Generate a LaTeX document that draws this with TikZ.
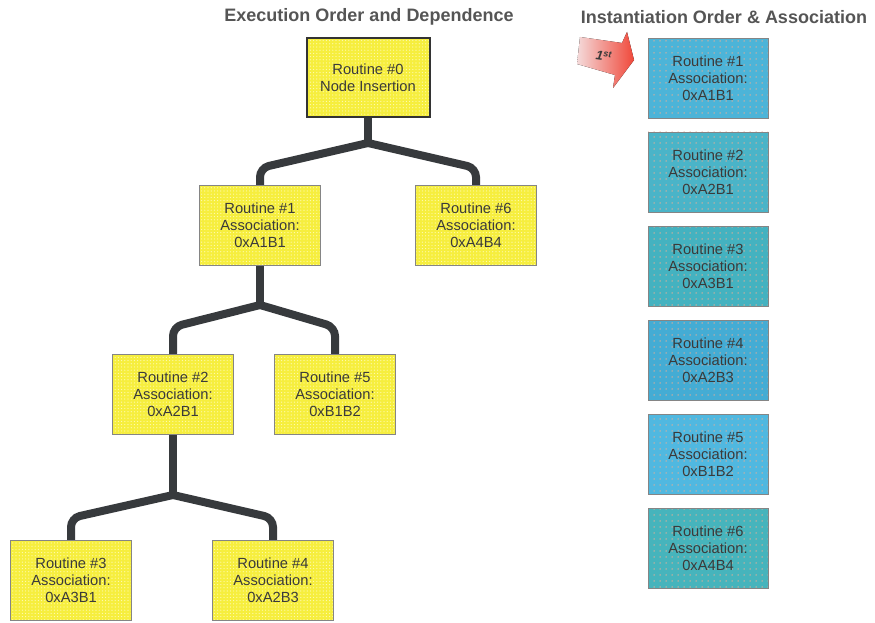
\documentclass[tikz,border=0pt]{standalone}
\usepackage{fontspec}
\setmainfont{Liberation Sans}
\usetikzlibrary{patterns.meta,backgrounds}

\definecolor{inktext}{HTML}{3A3A3A}
\definecolor{headtext}{HTML}{555555}
\definecolor{wire}{HTML}{373A3D}
\definecolor{boxedge}{HTML}{858585}
\definecolor{yel}{HTML}{F6EE3E}
\definecolor{yeldot}{HTML}{FFFBB8}
\definecolor{bluedot}{HTML}{E6AE96}
\definecolor{bA}{HTML}{4CB4D8}
\definecolor{bB}{HTML}{4AB4C8}
\definecolor{bC}{HTML}{44B2C0}
\definecolor{bD}{HTML}{44ACD4}
\definecolor{bE}{HTML}{50B8E0}
\definecolor{bF}{HTML}{46B4BC}
\definecolor{arrowlo}{HTML}{F4DADA}
\definecolor{arrowhi}{HTML}{F0483A}

\tikzset{
  boxtext/.style={font=\fontsize{14.7}{17.2}\selectfont, text=inktext, align=center},
  ybox/.style={boxtext, draw=boxedge, line width=0.8pt,
    preaction={fill=yel},
    preaction={pattern={Dots[distance=3.2pt,radius=0.6pt]}, pattern color=yeldot},
    minimum width=121pt, minimum height=80pt, inner sep=0pt},
  rootbox/.style={ybox, draw=black!80, line width=2pt, minimum width=123pt, minimum height=79pt},
  bbox/.style={boxtext, draw=boxedge, line width=0.8pt,
    preaction={fill=#1},
    preaction={pattern={Dots[distance=6pt,radius=0.75pt]}, pattern color=bluedot},
    minimum width=120pt, minimum height=80pt, inner sep=0pt},
  heading/.style={font=\bfseries\fontsize{18}{20}\selectfont, text=headtext},
  link/.style={draw=wire, line width=8pt, line cap=round, rounded corners=9pt},
}

\begin{document}
\begin{tikzpicture}[x=1pt,y=-1pt]
\useasboundingbox (0,0) rectangle (875,623);

% headings
\node[heading] (h1) at (369,17) {Execution Order and Dependence};
\node[heading] (h2) at (724,17) {Instantiation Order \& Association};

% dependence tree
\node[rootbox] (r0) at (368,77.5) {Routine \#0\\Node Insertion};
\node[ybox] (r1) at (260,225.5) {Routine \#1\\Association:\\0xA1B1};
\node[ybox] (r6) at (476,225.5) {Routine \#6\\Association:\\0xA4B4};
\node[ybox] (r2) at (173,394) {Routine \#2\\Association:\\0xA2B1};
\node[ybox] (r5) at (335,394) {Routine \#5\\Association:\\0xB1B2};
\node[ybox] (r3) at (71,580.5) {Routine \#3\\Association:\\0xA3B1};
\node[ybox] (r4) at (273,580.5) {Routine \#4\\Association:\\0xA2B3};

% branch points and elbows
\coordinate (j0) at (368,143);
\coordinate (j1) at (260,305);
\coordinate (j2) at (173,495);
\coordinate (e1) at (260,168);
\coordinate (e6) at (476,168);
\coordinate (e2) at (173,327);
\coordinate (e5) at (335,327);
\coordinate (e3) at (71,518);
\coordinate (e4) at (273,518);

\begin{scope}[on background layer]
  \draw[link] (r0.south) -- (j0);
  \draw[link] (j0) -- (e1) -- (r1.north);
  \draw[link] (j0) -- (e6) -- (r6.north);
  \draw[link] (r1.south) -- (j1);
  \draw[link] (j1) -- (e2) -- (r2.north);
  \draw[link] (j1) -- (e5) -- (r5.north);
  \draw[link] (r2.south) -- (j2);
  \draw[link] (j2) -- (e3) -- (r3.north);
  \draw[link] (j2) -- (e4) -- (r4.north);
\end{scope}

% instantiation column
\node[bbox=bA] (i1) at (708,78)  {Routine \#1\\Association:\\0xA1B1};
\node[bbox=bB] (i2) at (708,172) {Routine \#2\\Association:\\0xA2B1};
\node[bbox=bC] (i3) at (708,266) {Routine \#3\\Association:\\0xA3B1};
\node[bbox=bD] (i4) at (708,360) {Routine \#4\\Association:\\0xA2B3};
\node[bbox=bE] (i5) at (708,454) {Routine \#5\\Association:\\0xB1B2};
\node[bbox=bF] (i6) at (708,548.5) {Routine \#6\\Association:\\0xA4B4};

% "first" marker arrow
\fill[left color=arrowlo, right color=arrowhi]
  (580,37) -- (622,43) -- (627,32) -- (634,60) -- (613,88) -- (615,75) -- (577,64) -- cycle;
\node[font=\bfseries\itshape\fontsize{13}{13}\selectfont, text=inktext, rotate=-8]
  (first) at (604,56) {1\textsuperscript{st}};
\end{tikzpicture}
\end{document}
